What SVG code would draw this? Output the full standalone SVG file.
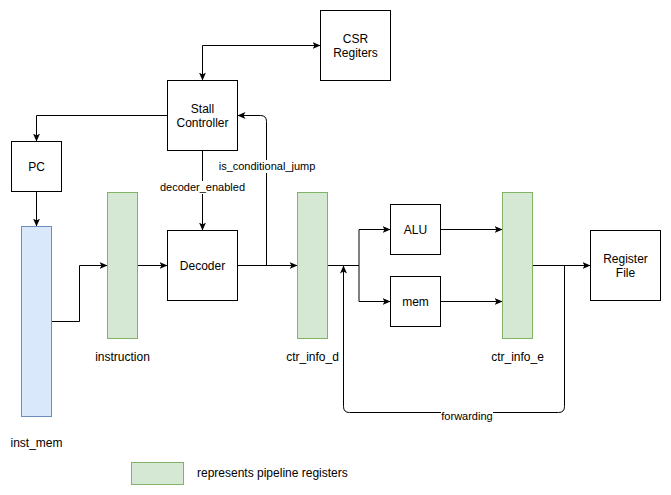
<svg xmlns="http://www.w3.org/2000/svg" width="671" height="495" viewBox="0 0 671 495">
<style>
text{font-family:"Liberation Sans",Arial,Helvetica,sans-serif;font-size:12px;fill:#000;text-anchor:middle}
.el{font-size:11px}
.box{fill:#fff;stroke:#000;stroke-width:1}
.reg{fill:#d5e8d4;stroke:#82b366;stroke-width:1}
.mem{fill:#dae8fc;stroke:#6c8ebf;stroke-width:1}
.e{fill:none;stroke:#000;stroke-width:1}
.a{marker-end:url(#arr)}
.bg{fill:#fff}
</style>
<defs>
<marker id="arr" viewBox="0 0 8 8" refX="8" refY="4" markerWidth="8" markerHeight="8" markerUnits="userSpaceOnUse" orient="auto-start-reverse">
<path d="M0,0.5 L8,4 L0,7.5 L2,4 Z" fill="#000"/>
</marker>
</defs>
<rect width="671" height="495" fill="#fff"/>
<g id="connectors">
<path class="e" d="M202.5,80.5 V45.5 H320.5" marker-start="url(#arr)" marker-end="url(#arr)"/>
<path class="e a" d="M167.5,115.5 H36.5 V141.5"/>
<path class="e a" d="M36.5,191.5 V226.5"/>
<path class="e a" d="M51.5,321.5 H79.5 V265.5 H107.5"/>
<path class="e a" d="M137.5,265.5 H167.5"/>
<path class="e a" d="M202.5,150.5 V230.5"/>
<path class="e a" d="M237.5,265.5 H297.5"/>
<path class="e a" d="M266.5,265.5 V121.5 Q266.5,115.5 260.5,115.5 H237.5"/>
<path class="e" d="M327.5,265.5 H359"/>
<path class="e a" d="M359,265.5 V229.5 H390.5"/>
<path class="e a" d="M359,265.5 V301.5 H390.5"/>
<path class="e a" d="M440.5,229.5 H502.5"/>
<path class="e a" d="M440.5,301.5 H502.5"/>
<path class="e a" d="M532.5,265.5 H590.5"/>
<path class="e a" d="M564.5,265.5 V406.5 Q564.5,412.5 558.5,412.5 H349.5 Q343.5,412.5 343.5,406.5 V265.5"/>
<rect class="bg" x="161" y="181" width="83" height="13"/>
<text class="el" x="202.5" y="191">decoder_enabled</text>
<rect class="bg" x="218" y="160" width="98" height="13"/>
<text class="el" x="267" y="170">is_conditional_jump</text>
<rect class="bg" x="441" y="409" width="52" height="13"/>
<text class="el" x="467" y="419.5">forwarding</text>
</g>
<g id="csr"><rect class="box" x="320.5" y="10.5" width="70" height="70"/><text x="355.5" y="43">CSR</text><text x="355.5" y="57">Regiters</text></g>
<g id="stall"><rect class="box" x="167.5" y="80.5" width="70" height="70"/><text x="202.5" y="113">Stall</text><text x="202.5" y="127">Controller</text></g>
<g id="pc"><rect class="box" x="11.5" y="141.5" width="50" height="50"/><text x="36.5" y="171">PC</text></g>
<g id="inst_mem"><rect class="mem" x="21.5" y="226.5" width="30" height="190"/><text x="36.5" y="447">inst_mem</text></g>
<g id="instruction"><rect class="reg" x="107.5" y="192.5" width="30" height="146"/><text x="122.5" y="361">instruction</text></g>
<g id="decoder"><rect class="box" x="167.5" y="230.5" width="70" height="70"/><text x="202.5" y="269.5">Decoder</text></g>
<g id="ctr_info_d"><rect class="reg" x="297.5" y="192.5" width="30" height="146"/><text x="312.5" y="361">ctr_info_d</text></g>
<g id="alu"><rect class="box" x="390.5" y="204.5" width="50" height="50"/><text x="415.5" y="234">ALU</text></g>
<g id="mem"><rect class="box" x="390.5" y="276.5" width="50" height="50"/><text x="415.5" y="305.5">mem</text></g>
<g id="ctr_info_e"><rect class="reg" x="502.5" y="192.5" width="30" height="146"/><text x="517.5" y="361">ctr_info_e</text></g>
<g id="regfile"><rect class="box" x="590.5" y="230.5" width="70" height="70"/><text x="625.5" y="263">Register</text><text x="625.5" y="277">File</text></g>
<g id="legend"><rect class="reg" x="131.5" y="462.5" width="52" height="22"/><text x="197" y="477" style="text-anchor:start">represents pipeline registers</text></g>
</svg>
